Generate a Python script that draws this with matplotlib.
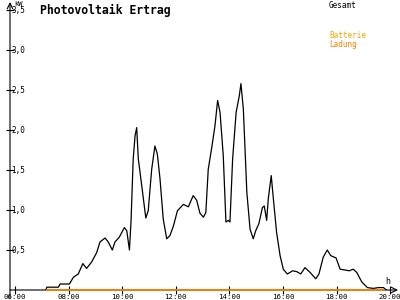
import numpy as np
from matplotlib import pyplot as plt

# hours of day, kW
hours = [7.15, 7.19, 7.62, 7.68, 8.03, 8.18, 8.36, 8.53, 8.67, 8.86, 9.05, 9.17,
         9.36, 9.48, 9.63, 9.73, 9.89, 10.08, 10.17, 10.27, 10.33, 10.41, 10.48,
         10.54, 10.60, 10.73, 10.88, 10.97, 11.10, 11.22, 11.31, 11.41, 11.53,
         11.66, 11.78, 11.91, 12.06, 12.28, 12.47, 12.57, 12.65, 12.78, 12.90,
         13.03, 13.12, 13.21, 13.34, 13.46, 13.56, 13.65, 13.77, 13.87, 13.96,
         14.02, 14.12, 14.25, 14.37, 14.43, 14.52, 14.65, 14.77, 14.89, 14.98,
         15.10, 15.23, 15.30, 15.39, 15.45, 15.56, 15.64, 15.76, 15.89, 16.01,
         16.16, 16.36, 16.51, 16.66, 16.82, 17.01, 17.22, 17.34, 17.50, 17.65,
         17.78, 17.98, 18.13, 18.31, 18.47, 18.62, 18.75, 18.94, 19.15, 19.37,
         19.56, 19.75, 19.85]
gesamt = [0.0, 0.035, 0.035, 0.075, 0.075, 0.16, 0.20, 0.33, 0.27, 0.35, 0.47, 0.60,
          0.65, 0.60, 0.50, 0.60, 0.66, 0.78, 0.74, 0.50, 0.87, 1.64, 1.93,
          2.03, 1.64, 1.30, 0.90, 0.99, 1.51, 1.80, 1.70, 1.39, 0.89,
          0.64, 0.68, 0.80, 0.99, 1.07, 1.04, 1.12, 1.18, 1.12, 0.96,
          0.91, 0.97, 1.51, 1.78, 2.05, 2.37, 2.22, 1.68, 0.85, 0.87,
          0.85, 1.64, 2.22, 2.43, 2.58, 2.26, 1.22, 0.76, 0.64, 0.74,
          0.83, 1.03, 1.05, 0.87, 1.14, 1.43, 1.14, 0.72, 0.43, 0.26,
          0.20, 0.24, 0.23, 0.20, 0.28, 0.22, 0.14, 0.20, 0.41, 0.50,
          0.43, 0.40, 0.26, 0.25, 0.24, 0.26, 0.22, 0.10, 0.03, 0.02,
          0.03, 0.03, 0.0]
ladung_hours = [7.18, 19.75]
ladung = [0.0, 0.0]

xticks = [6, 8, 10, 12, 14, 16, 18, 20]
xlabels = ["06:00", "08:00", "10:00", "12:00", "14:00", "16:00", "18:00", "20:00"]
yticks = [0.5, 1.0, 1.5, 2.0, 2.5, 3.0, 3.5]
ylabels = ["0,5", "1,0", "1,5", "2,0", "2,5", "3,0", "3,5"]

mono = "DejaVu Sans Mono"
fig = plt.figure(figsize=(4, 3), dpi=100)
ax = fig.add_axes([10/400, 10/300, 388/400, 288/300])
ax.set_xlim(5.813, 20.29)
ax.set_ylim(0, 3.6)

ax.plot(hours, gesamt, color="black", lw=0.9)

for s in ax.spines.values():
    s.set_visible(False)
ax.annotate("", xy=(1, 0), xytext=(0, 0), xycoords="axes fraction",
            arrowprops=dict(arrowstyle="->", lw=0.8, color="black",
                            shrinkA=0, shrinkB=0))
ax.annotate("", xy=(0, 1), xytext=(0, -0.03), xycoords="axes fraction",
            arrowprops=dict(arrowstyle="->", lw=0.8, color="black",
                            shrinkA=0, shrinkB=0))
ax.plot(ladung_hours, ladung, color="#ff8000", lw=1.3, clip_on=False, zorder=5)

ax.set_xticks(xticks, xlabels, fontfamily=mono, fontsize=5.3)
ax.set_yticks(yticks, ylabels, fontfamily=mono, fontsize=5.5)
ax.tick_params(axis="x", direction="inout", length=6, width=0.8, pad=0)
ax.tick_params(axis="y", direction="inout", length=6, width=0.8, pad=-4)
for lab in ax.get_yticklabels():
    lab.set_ha("left")

fig.text(40/400, 1 - 10/300, "Photovoltaik Ertrag", fontfamily=mono,
         fontsize=8.3, fontweight="bold", va="center", ha="left")
fig.text(14/400, 1 - 4/300, "kW", fontfamily=mono, fontsize=5, va="center")
fig.text(385/400, 1 - 281/300, "h", fontfamily=mono, fontsize=6, va="center")
fig.text(329/400, 1 - 5/300, "Gesamt", fontfamily=mono, fontsize=5.5,
         color="black", va="center")
fig.text(329/400, 1 - 36/300, "Batterie", fontfamily=mono, fontsize=5.5,
         color="#f0a800", va="center")
fig.text(329/400, 1 - 44/300, "Ladung", fontfamily=mono, fontsize=5.5,
         color="#ff8000", va="center")

fig.savefig("out.png", dpi=100)
